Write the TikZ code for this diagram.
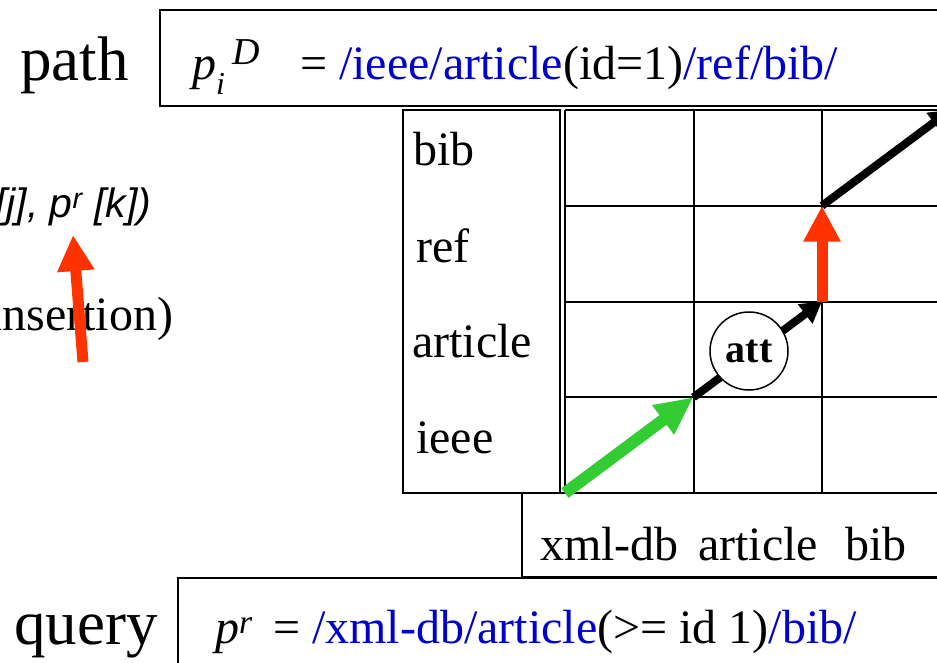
\documentclass[tikz,border=0pt]{standalone}
\usepackage{fontspec}
\setmainfont{Liberation Serif}
\newfontfamily\arialfont{Liberation Sans}
\usetikzlibrary{arrows.meta}
\definecolor{pathblue}{HTML}{0000CC}
\definecolor{insred}{HTML}{FF3300}
\definecolor{matchgreen}{HTML}{33CC33}

\begin{document}
\begin{tikzpicture}[
    x=1pt, y=-1pt,
    box/.style={draw=black, line width=2pt},
    gridline/.style={draw=black, line width=2pt},
    lbl/.style={anchor=base west, inner sep=0pt, font=\fontsize{48}{56}\selectfont},
    bigword/.style={anchor=base west, inner sep=0pt, font=\fontsize{63}{72}\selectfont},
    sanslbl/.style={anchor=base west, inner sep=0pt, font=\arialfont\itshape\fontsize{41}{48}\selectfont},
    attnode/.style={circle, draw=black, line width=1.5pt, fill=white, minimum size=78pt, inner sep=0pt, font=\bfseries\fontsize{40}{46}\selectfont},
    redarrow/.style={draw=insred, line width=11pt, -{Triangle[width=35pt, length=36pt, fill=insred]}},
    greenarrow/.style={draw=matchgreen, line width=12pt, -{Triangle[width=34pt, length=38pt, fill=matchgreen]}},
    stepline/.style={draw=black, line width=8pt, -{Triangle[width=23pt, length=21pt]}}
]
\useasboundingbox (0,0) rectangle (937,663);
\clip (0,0) rectangle (937,663);

% frames
\draw[box] (160,10) rectangle (990,106);
\draw[box] (403,110) rectangle (560,493);
\draw[box] (522,493) rectangle (990,577);
\draw[box] (178,578) rectangle (990,700);

% grid points
\foreach \i in {0,...,3}
  \foreach \j in {0,...,4}
    \coordinate (g\i\j) at ({565+128.5*\i},{493-95.75*\j});
\foreach \i in {0,...,3}
  \draw[gridline] (g\i0) -- (g\i4);
\foreach \j in {0,...,4}
  \draw[gridline] (g0\j) -- +(420,0);

% path row
\node[bigword] (pathword) at (20,81) {path};
\node[lbl] (pathvar) at (192,80) {\textit{p}\rlap{\raisebox{-15pt}{\fontsize{32}{32}\selectfont\textit{i}}}\hspace{16pt}\raisebox{15pt}{\fontsize{38}{38}\selectfont\textit{D}}};
\node[lbl] (pathexpr) at (300,80) {= \textcolor{pathblue}{/ieee/article}(id=1)\textcolor{pathblue}{/ref/bib/}};

% row labels
\node[lbl] (rowbib) at (413,166) {bib};
\node[lbl] (rowref) at (416,262) {ref};
\node[lbl] (rowarticle) at (412,357) {article};
\node[lbl] (rowieee) at (416,453) {ieee};

% column labels
\node[lbl] (colxmldb) at (540,560) {xml-db};
\node[lbl] (colarticle) at (698,560) {article};
\node[lbl] (colbib) at (845,560) {bib};

% query row
\node[bigword] (queryword) at (14,644) {query};
\node[lbl] (queryvar) at (215,643) {\textit{p}\textsuperscript{\textit{r}}};
\node[lbl] (queryexpr) at (273,643) {= \textcolor{pathblue}{/xml-db/article}(>= id 1)\textcolor{pathblue}{/bib/}};

% left side
\node[sanslbl] (pairs) at (-5,218) {[j], p\textsuperscript{r} [k])};
\node[lbl] (insertion) at (-11,330) {insertion)};
\coordinate (instail) at (83,362);
\coordinate (instip) at (73,235);
\draw[redarrow] (instail) -- (instip);

% alignment path
\draw[greenarrow] (g00) -- (g11);
\draw[stepline] (g11) -- (g22);
\node[attnode] (att) at (749,351) {att};
\draw[redarrow] (g22) -- (g23);
\draw[stepline] (g23) -- (g34);
\end{tikzpicture}
\end{document}
